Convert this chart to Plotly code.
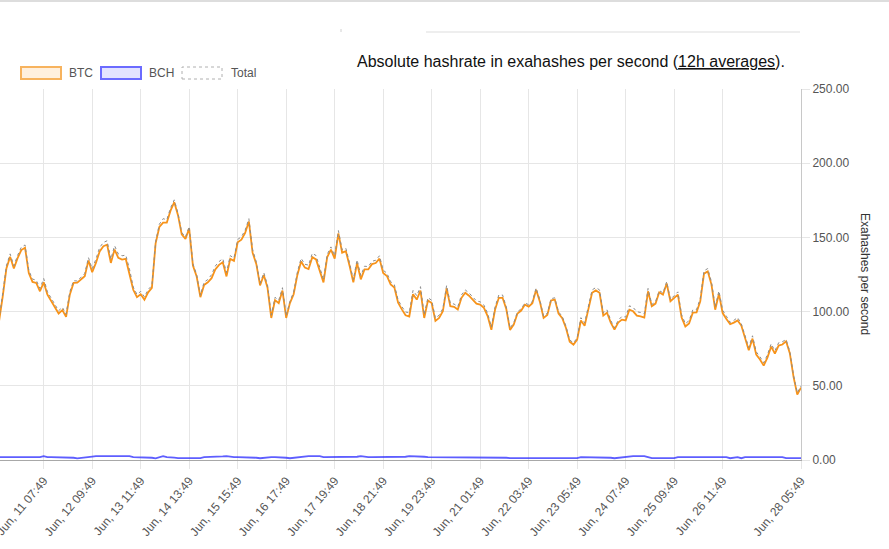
import pandas as pd
import plotly.graph_objects as go

# 2h samples, Jun 10 05:49 -> Jun 28 05:49 (first point sits just left of the visible area)
times = pd.date_range("2021-06-10 05:49", "2021-06-28 05:49", freq="2h")

btc = [
    85, 93, 110, 129, 137, 129, 136, 141.5, 143, 126,
    120, 119.3, 113.7, 119.7, 111.4, 107, 102.5, 98.7, 101, 96.4,
    111.4, 119.3, 119.5, 121.5, 123.8, 134.5, 126.5, 132.8, 140.6, 144,
    145.1, 132.8, 141.8, 136.2, 135, 135.5, 126, 114.7, 109.7, 111.7,
    108, 113, 116, 146, 157, 160, 160, 168, 173.7, 165,
    152, 149, 156, 131, 123.7, 109.7, 118, 119.7, 122.5, 128.4,
    131.5, 133.3, 123.7, 135.5, 134.2, 146.7, 148.5, 153, 160.7, 139.7,
    132, 117.7, 124.7, 116, 95.7, 107.7, 105.7, 114.2, 95.7, 105.7,
    111.7, 124.7, 133.7, 129.7, 128.7, 136.7, 135.2, 127.2, 119.7, 136.7,
    141.7, 135.7, 152.7, 139.7, 140.7, 130.7, 119.7, 132.7, 121.7, 128.4,
    128.4, 132, 132.7, 135.7, 126, 124, 118.3, 116.2, 106, 101.5,
    97.5, 96.7, 111.7, 108.1, 114.2, 95.7, 107.5, 105.7, 93.7, 95.7,
    100.2, 115.7, 103.7, 103.2, 101.4, 109.3, 112.7, 110.7, 108.1, 105.3,
    104.7, 102.5, 97, 87.7, 101.4, 109.3, 109.3, 101.7, 87.7, 91.2,
    98.7, 100.7, 104.7, 103.4, 105.7, 114.7, 106.7, 95.7, 97.7, 107.5,
    108.1, 98.7, 95.5, 89, 79.7, 77.7, 81.1, 94, 90.5, 101.2,
    112.7, 114.3, 112.7, 97.3, 99.3, 92.6, 87.9, 92.6, 94.6, 94.1,
    101.3, 100.2, 97.3, 96.8, 96, 113.7, 103.6, 105.4, 113, 111.4,
    118.9, 107, 109.4, 111.4, 96, 90, 92, 99.3, 99.5, 107,
    125.6, 127.1, 118.2, 101.3, 112, 99, 95, 91.5, 92.6, 94.1,
    90.6, 82, 73.9, 81.8, 71, 67.7, 63.6, 69, 76.4, 71.7,
    77.1, 77.8, 80, 72, 56, 44.1, 48.8,
]

bch = [
    1.9, 1.9, 1.9, 1.9, 1.9, 1.9, 1.9, 1.9, 1.9, 1.9,
    1.9, 1.9, 1.9, 2.6, 1.9, 1.9, 1.9, 1.9, 1.9, 1.9,
    1.9, 1.5, 1.1, 1.5, 1.9, 1.9, 2.3, 2.6, 2.6, 2.6,
    2.6, 2.6, 2.6, 2.6, 2.6, 2.6, 2.6, 1.9, 1.9, 1.9,
    1.9, 1.9, 1.5, 1.1, 1.9, 2.6, 1.9, 1.9, 1.6, 1.3,
    1.3, 1.3, 1.3, 1.3, 1.3, 1.3, 1.9, 1.9, 2.4, 2.3,
    2.2, 2.4, 2.6, 2.2, 1.9, 1.9, 1.9, 1.9, 1.9, 1.9,
    1.5, 1.2, 1.5, 1.9, 1.9, 1.9, 1.9, 1.9, 1.5, 1.2,
    1.5, 1.9, 2.2, 2.2, 2.6, 2.6, 2.6, 2.6, 1.9, 1.9,
    1.9, 1.9, 1.9, 1.9, 1.9, 1.9, 1.9, 2.2, 2.6, 2.2,
    1.9, 1.9, 1.9, 1.9, 1.9, 1.9, 1.9, 1.9, 1.9, 1.9,
    2.2, 2.6, 2.6, 2.6, 2.6, 2.2, 1.9, 1.9, 1.9, 1.9,
    1.9, 1.9, 1.9, 1.9, 1.9, 1.9, 1.9, 1.9, 1.9, 1.9,
    1.9, 1.9, 1.9, 1.9, 1.9, 1.9, 1.9, 1.5, 1.2, 1.2,
    1.2, 1.2, 1.2, 1.2, 1.2, 1.2, 1.2, 1.2, 1.2, 1.2,
    1.2, 1.2, 1.2, 1.2, 1.2, 1.2, 1.2, 1.9, 1.9, 1.9,
    1.9, 1.9, 1.9, 1.9, 1.9, 1.5, 1.2, 1.5, 2.2, 2.2,
    2.6, 2.6, 2.6, 2.6, 2.6, 1.9, 1.2, 1.2, 1.2, 1.2,
    1.2, 1.2, 1.2, 1.9, 1.9, 1.9, 1.9, 1.9, 1.9, 1.9,
    1.9, 1.9, 1.9, 1.9, 1.9, 1.9, 1.9, 1.2, 1.5, 1.9,
    1.2, 1.9, 1.9, 1.9, 1.9, 1.9, 1.9, 1.9, 1.9, 1.9,
    1.9, 1.9, 1.2, 1.2, 1.2, 1.2, 1.2,
]

total = [b + c for b, c in zip(btc, bch)]

# Chart.js-style autoskipped labels: every 13th point plus the last one
tick_times = list(times[0:196:13]) + [times[-1]]

W, H = 889, 549
L, R, T, B = 0, 801, 89, 460
FONT = "Arial, Liberation Sans, sans-serif"


def px(x, y):
    # page pixels -> paper coords
    return x / (R - L), (B - y) / (B - T)


fig = go.Figure()
fig.add_trace(go.Scatter(x=times, y=btc, mode="lines", name="BTC",
                         line=dict(color="#f7931a", width=1.8)))
fig.add_trace(go.Scatter(x=times, y=bch, mode="lines", name="BCH",
                         line=dict(color="rgba(40,40,255,0.75)", width=1.8)))
fig.add_trace(go.Scatter(x=times, y=total, mode="lines", name="Total",
                         line=dict(color="#8c8c8c", width=1, dash="3px,3px")))

shapes = []
annotations = []

# legend boxes
legend = [
    ("BTC", 21, "#fff0de", "#f7b35e", "solid", 67),
    ("BCH", 101, "#e3e3ff", "#6b6bff", "solid", 147),
    ("Total", 182, "#ffffff", "#b0b0b0", "dot", 229),
]
for label, bx, fill, border, dash, tx in legend:
    x0, y0 = px(bx, 67)
    x1, y1 = px(bx + 40, 79)
    shapes.append(dict(type="rect", xref="paper", yref="paper", x0=x0, x1=x1, y0=y1, y1=y0,
                       fillcolor=fill, line=dict(color=border, width=2 if dash == "solid" else 1, dash=dash),
                       layer="above"))
    ax, ay = px(tx, 73)
    annotations.append(dict(text=label, xref="paper", yref="paper", x=ax, y=ay,
                            xanchor="left", yanchor="middle", showarrow=False,
                            font=dict(family=FONT, size=12, color="#555")))

# page decorations above the chart
for (x0p, y0p, x1p, y1p, col, w) in [(0, 1, 889, 1, "#dddddd", 2),
                                     (426, 32, 800, 32, "#dddddd", 1),
                                     (341, 29, 341, 32, "#d0d0d0", 1)]:
    a0, b0 = px(x0p, y0p)
    a1, b1 = px(x1p, y1p)
    shapes.append(dict(type="line", xref="paper", yref="paper", x0=a0, y0=b0, x1=a1, y1=b1,
                       line=dict(color=col, width=w)))

tx, ty = px(571, 61)
annotations.append(dict(
    text='Absolute hashrate in exahashes per second (<span style="text-decoration:underline">12h averages</span>).',
    xref="paper", yref="paper", x=tx, y=ty, xanchor="center", yanchor="middle",
    showarrow=False, font=dict(family=FONT, size=16, color="#111")))

ax, ay = px(865, 274)
annotations.append(dict(text="Exahashes per second", xref="paper", yref="paper", x=ax, y=ay,
                        textangle=90, showarrow=False, xanchor="center", yanchor="middle",
                        font=dict(family=FONT, size=12, color="#333")))

x_start = times[0] + pd.Timedelta(hours=2.57)

fig.update_layout(
    width=W, height=H,
    margin=dict(l=L, r=W - R, t=T, b=H - B),
    plot_bgcolor="white", paper_bgcolor="white",
    showlegend=False,
    shapes=shapes, annotations=annotations,
    font=dict(family=FONT, size=12, color="#666"),
    xaxis=dict(
        range=[x_start, times[-1]], automargin=False,
        tickvals=tick_times, tickformat="%b, %d %H:%M", tickangle=-50,
        ticklabeloverflow="allow",
        showgrid=True, gridcolor="#e6e6e6", gridwidth=1,
        ticks="outside", ticklen=8, tickcolor="#e6e6e6",
        showline=True, linecolor="#a8a8a8", linewidth=1,
        tickfont=dict(family=FONT, size=12, color="#555"),
        zeroline=False,
    ),
    yaxis=dict(
        side="right", range=[0, 250], dtick=50, tickformat=".2f", automargin=False,
        showgrid=True, gridcolor="#e6e6e6", gridwidth=1,
        ticks="outside", ticklen=8, tickcolor="#e6e6e6",
        showline=True, linecolor="#c8c8c8", linewidth=1,
        tickfont=dict(family=FONT, size=12, color="#555"),
        zeroline=False,
    ),
)

# drop the default 8px body margin so the figure sits at the page origin
fig.write_html("out.html", config={"displayModeBar": False},
               post_script="document.body.style.margin='0';")
